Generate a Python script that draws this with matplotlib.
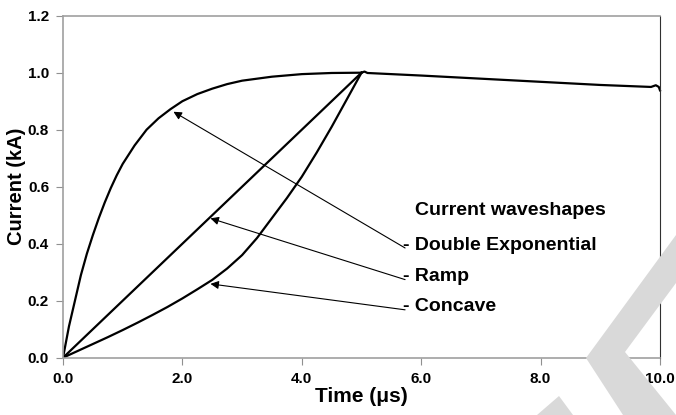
import matplotlib
matplotlib.use("Agg")
import matplotlib.pyplot as plt
from matplotlib.patches import Polygon

plt.rcParams['font.family'] = ['Liberation Sans', 'DejaVu Sans']
plt.rcParams['font.weight'] = 'bold'

# rise part of each waveshape (time in us, current in kA)
t_dexp = [0.0, 0.05, 0.1, 0.2, 0.3, 0.4, 0.5, 0.6, 0.7, 0.8, 0.9, 1.0, 1.2, 1.4, 1.6, 1.8,
          2.0, 2.25, 2.5, 2.75, 3.0, 3.5, 4.0, 4.5, 5.0]
i_dexp = [0.0, 0.055, 0.11, 0.20, 0.29, 0.365, 0.43, 0.49, 0.545, 0.595, 0.64, 0.68, 0.745,
          0.80, 0.84, 0.872, 0.90, 0.925, 0.944, 0.96, 0.972, 0.986, 0.995, 0.999, 1.0]

t_ramp = [0.0, 5.0]
i_ramp = [0.0, 1.0]

t_conc = [0.0, 0.25, 0.5, 0.75, 1.0, 1.25, 1.5, 1.75, 2.0, 2.25, 2.5, 2.75, 3.0, 3.25,
          3.5, 3.75, 4.0, 4.25, 4.5, 4.75, 5.0]
i_conc = [0.0, 0.024, 0.048, 0.072, 0.097, 0.123, 0.15, 0.178, 0.208, 0.24, 0.273, 0.313,
          0.36, 0.42, 0.49, 0.56, 0.635, 0.72, 0.81, 0.905, 1.0]

# common tail after the peak
t_tail = [5.0, 5.05, 5.1, 6.0, 7.0, 8.0, 9.0, 9.85, 9.93, 9.98, 10.0]
i_tail = [1.0, 1.004, 0.999, 0.99, 0.979, 0.968, 0.957, 0.950, 0.956, 0.950, 0.938]

# label text, label anchor (t, i), arrow tip (t, i)
labels = ["- Double Exponential", "- Ramp", "- Concave"]
label_pos = [(5.70, 0.395), (5.70, 0.284), (5.70, 0.178)]
arrow_tips = [(1.85, 0.863), (2.47, 0.489), (2.47, 0.259)]
legend_title = "Current waveshapes"
title_pos = (5.90, 0.518)

fig = plt.figure(figsize=(6.76, 4.15), dpi=100)
ax = fig.add_axes([63 / 676, 1 - 357.7 / 415, (660 - 63) / 676, (357.7 - 15.7) / 415])
ax.patch.set_alpha(0)

# light gray watermark in the lower right corner
wm = '#d9d9d9'
px = lambda pts: [(x / 676, 1 - y / 415) for x, y in pts]
fig.patches.append(Polygon(px([(676, 235), (586, 358), (623, 415), (676, 415), (625, 352), (676, 283)]),
                           closed=True, transform=fig.transFigure, color=wm, zorder=0, lw=0))
fig.patches.append(Polygon(px([(537, 415), (559, 396), (573, 415)]),
                           closed=True, transform=fig.transFigure, color=wm, zorder=0, lw=0))

lw = 1.6
for t, i in [(t_dexp, i_dexp), (t_ramp, i_ramp), (t_conc, i_conc)]:
    ax.plot(t, i, color='black', lw=lw, solid_joinstyle='round')
ax.plot(t_tail, i_tail, color='black', lw=lw, clip_on=False, solid_joinstyle='round')

ax.text(title_pos[0], title_pos[1], legend_title, fontsize=14, fontweight='bold', va='center', ha='left')
for lab, pos, tip in zip(labels, label_pos, arrow_tips):
    ax.text(pos[0], pos[1], lab, fontsize=14, fontweight='bold', va='center', ha='left')
    ax.annotate('', xy=tip, xytext=(pos[0] + 0.03, pos[1] - 0.01),
                arrowprops=dict(arrowstyle='-|>', color='black', lw=0.8,
                                mutation_scale=12, shrinkA=0, shrinkB=0))

ax.set_xlim(0, 10)
ax.set_ylim(0, 1.2)
ax.set_xticks([0, 2, 4, 6, 8, 10])
ax.set_yticks([0, 0.2, 0.4, 0.6, 0.8, 1.0, 1.2])
ax.set_xticklabels([f"{v:.1f}" for v in ax.get_xticks()])
ax.set_yticklabels([f"{v:.1f}" for v in ax.get_yticks()])
ax.tick_params(axis='both', direction='out', length=5, width=0.8, color='#909090',
               labelsize=11, pad=5)
for lab in ax.get_xticklabels() + ax.get_yticklabels():
    lab.set_fontweight('bold')

for side in ['top', 'left', 'bottom']:
    ax.spines[side].set_color('#a0a0a0')
    ax.spines[side].set_linewidth(1.2)
ax.spines['right'].set_color('#303030')
ax.spines['right'].set_linewidth(0.8)

ax.set_xlabel("Time (\u03bcs)", fontsize=15, fontweight='bold', labelpad=1)
ax.set_ylabel("Current (kA)", fontsize=14.5, fontweight='bold', labelpad=1)

fig.savefig("out.png", dpi=100)
